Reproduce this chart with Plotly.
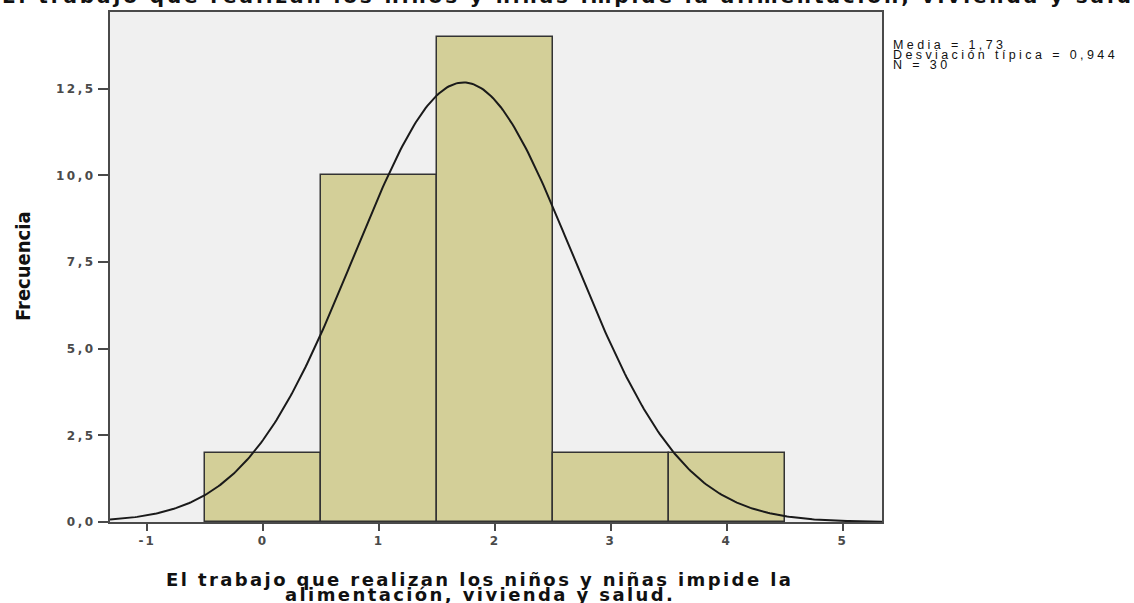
import numpy as np
import plotly.graph_objects as go

# ---- data ----
categories = [0, 1, 2, 3, 4]
frequencies = [2, 10, 14, 2, 2]
mean_value = 1.73
std_value = 0.944
n_value = 30
bin_width = 1.0

y_tickvals = [0, 2.5, 5, 7.5, 10, 12.5]
y_ticklabels = ["0,0", "2,5", "5,0", "7,5", "10,0", "12,5"]
x_tickvals = [-1, 0, 1, 2, 3, 4, 5]
x_ticklabels = ["-1", "0", "1", "2", "3", "4", "5"]

title_text = "El trabajo que realizan los niños y niñas impide la alimentación, vivienda y salud"
xtitle_lines = ["El trabajo que realizan los niños y niñas impide la",
                "alimentación, vivienda y salud."]
ytitle_text = "Frecuencia"
stats_lines = ["Media = 1,73", "Desviación típica = 0,944", "N = 30"]

x_range = [-1.32, 5.34]
y_range = [0, 14.71]

# normal curve scaled to the histogram
xc = np.linspace(x_range[0], x_range[1], 400)
yc = n_value * bin_width / (std_value * np.sqrt(2 * np.pi)) * np.exp(-0.5 * ((xc - mean_value) / std_value) ** 2)


def spaced(t, ls):
    return '<span style="letter-spacing:%spx">%s</span>' % (ls, t)


fig = go.Figure()
fig.add_trace(go.Bar(
    x=categories, y=frequencies, width=bin_width,
    marker=dict(color="#D3CF98", line=dict(color="#333333", width=1.5)),
    hoverinfo="skip", showlegend=False,
))
fig.add_trace(go.Scatter(
    x=xc, y=yc, mode="lines", line=dict(color="#1a1a1a", width=2),
    hoverinfo="skip", showlegend=False,
))

tickfont = dict(family="DejaVu Sans", size=12, color="#4a4a4a", weight="bold")

fig.update_layout(
    width=1134, height=603,
    margin=dict(l=110, r=252, t=10, b=81),
    paper_bgcolor="white", plot_bgcolor="#F0F0F0",
    bargap=0,
    xaxis=dict(range=x_range, tickvals=x_tickvals,
               ticktext=[spaced(t, 2) for t in x_ticklabels],
               showgrid=False, zeroline=False,
               showline=True, linecolor="#4a4a4a", linewidth=2, mirror=True,
               ticks="outside", ticklen=7, tickwidth=2, tickcolor="#4a4a4a",
               tickfont=tickfont),
    yaxis=dict(range=y_range, tickvals=y_tickvals,
               ticktext=[spaced(t, 2.5) for t in y_ticklabels],
               showgrid=False, zeroline=False,
               showline=True, linecolor="#4a4a4a", linewidth=2, mirror=True,
               ticks="outside", ticklen=10, tickwidth=2, tickcolor="#4a4a4a",
               tickfont=tickfont),
)

annotations = []
annotations.append(dict(text="<b>" + spaced(title_text, 2.9) + "</b>", xref="paper", yref="paper",
                        x=0.604, y=1.004, xanchor="center", yanchor="bottom", showarrow=False,
                        font=dict(family="DejaVu Sans", size=20, color="#111111")))
for line, yy in zip(xtitle_lines, [-0.113, -0.142]):
    annotations.append(dict(text="<b>" + spaced(line, 2.4) + "</b>", xref="paper", yref="paper",
                            x=0.479, y=yy, xanchor="center", yanchor="middle", showarrow=False,
                            font=dict(family="DejaVu Sans", size=18, color="#111111")))
annotations.append(dict(text="<b>" + ytitle_text + "</b>", xref="paper", yref="paper",
                        x=-0.1127, y=0.502, xanchor="center", yanchor="middle", showarrow=False,
                        textangle=-90,
                        font=dict(family="Liberation Sans Narrow, DejaVu Sans Condensed, Liberation Sans",
                                  size=20, color="#111111")))
for line, yy in zip(stats_lines, [0.9355, 0.9155, 0.8955]):
    annotations.append(dict(text=spaced(line, 3.4),
                            xref="paper", yref="paper",
                            x=1.012, y=yy, xanchor="left", yanchor="middle", showarrow=False,
                            font=dict(family="Liberation Sans", size=12.5, color="#111111")))
fig.update_layout(annotations=annotations)

fig.write_html("out.html", config={"displayModeBar": False},
               post_script="document.body.style.margin='0';document.body.style.padding='0';")
